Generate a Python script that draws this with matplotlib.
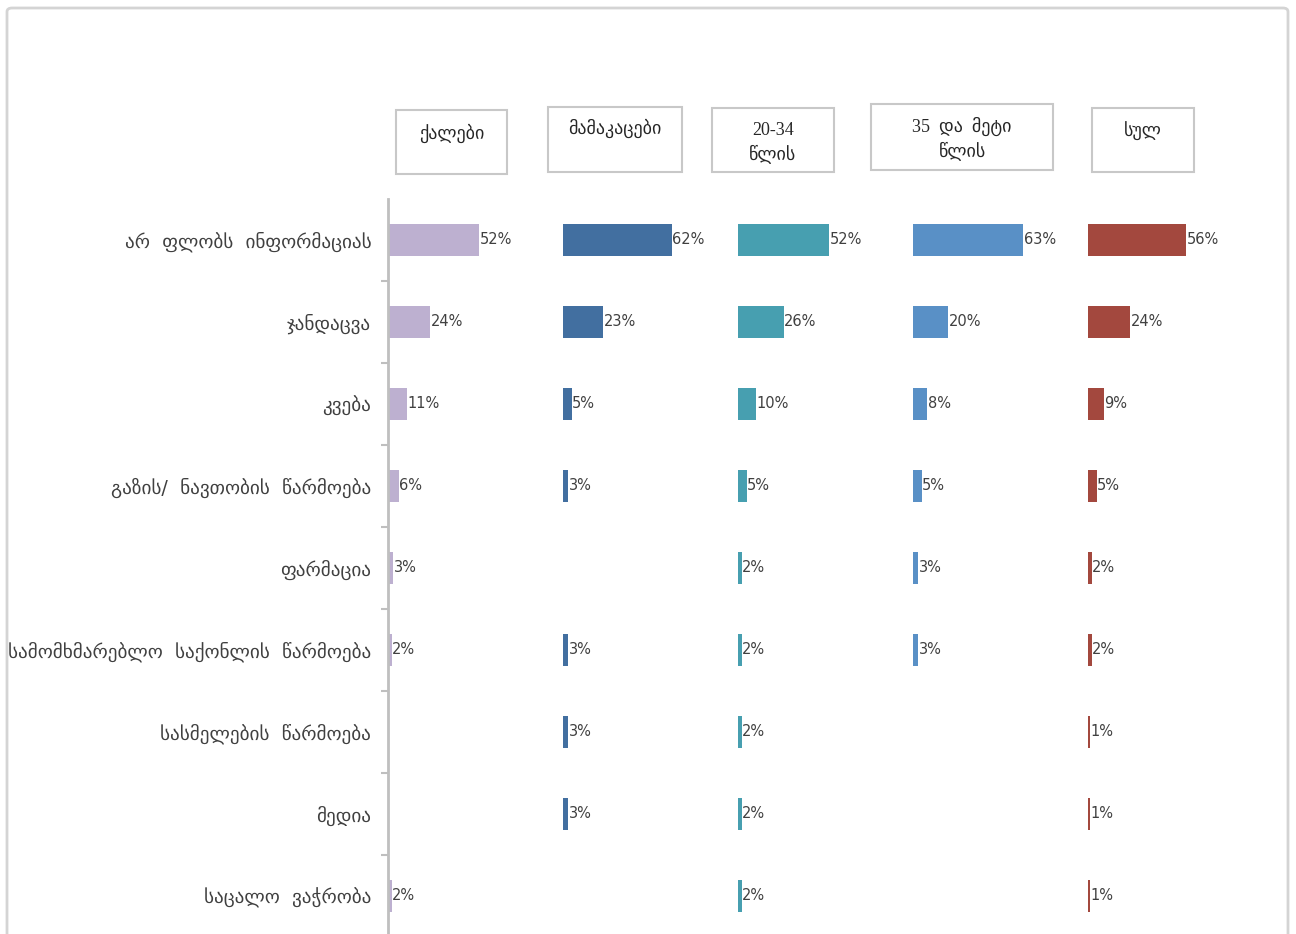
import matplotlib.pyplot as plt
import matplotlib.patches as patches
import numpy as np

# --- DATA ---
categories = [
    "არ  ფლობს  ინფორმაციას",
    "ჯანდაცვა",
    "კვება",
    "გაზის/  ნავთობის  წარმოება",
    "ფარმაცია",
    "სამომხმარებლო  საქონლის  წარმოება",
    "სასმელების  წარმოება",
    "მედია",
    "საცალო  ვაჭრობა",
]
groups = ["ქალები", "მამაკაცები", "20-34\nწლის", "35  და  მეტი\nწლის", "სულ"]

women = [52, 24, 11, 6, 3, 2, None, None, 2]
men = [62, 23, 5, 3, None, 3, 3, 3, None]
age_20_34 = [52, 26, 10, 5, 2, 2, 2, 2, 2]
age_35_plus = [63, 20, 8, 5, 3, 3, None, None, None]
total = [56, 24, 9, 5, 2, 2, 1, 1, 1]

series = [women, men, age_20_34, age_35_plus, total]
colors = ["#BDB0D0", "#426FA0", "#479FB0", "#5990C6", "#A3483E"]

# --- LAYOUT ---
W, H = 1296, 934
TEXT = "#404040"
fig = plt.figure(figsize=(W / 100, H / 100), dpi=100)

# outer frame
fig.patches.append(patches.FancyBboxPatch(
    (7 / W, 1 - 940 / H), (1288 - 7) / W, (940 - 8) / H,
    boxstyle="round,pad=0,rounding_size=0.004", transform=fig.transFigure,
    fill=False, edgecolor="#D4D4D4", linewidth=2, zorder=0))

panel_left, panel_w = 388, 175
top_px, bot_px = 199, 937
y = np.arange(len(categories))

axes = []
for i, (vals, col) in enumerate(zip(series, colors)):
    ax = fig.add_axes([(panel_left + i * panel_w) / W, 1 - bot_px / H,
                       panel_w / W, (bot_px - top_px) / H])
    ax.set_xlim(0, 100)
    ax.set_ylim(len(categories) - 0.5, -0.5)
    for j, v in enumerate(vals):
        if v is None:
            continue
        ax.barh(j, v, height=0.39, color=col, linewidth=0)
        ax.text(v + 0.3, j, f"{v}%", va="center", ha="left",
                fontsize=10.5, color=TEXT)
    for s in ax.spines.values():
        s.set_visible(False)
    ax.set_xticks([])
    ax.set_yticks([])
    ax.patch.set_alpha(0)
    axes.append(ax)

ax0 = axes[0]
ax0.spines["left"].set_visible(True)
ax0.spines["left"].set_color("#BFBFBF")
ax0.spines["left"].set_linewidth(2)
ax0.set_yticks(y)
ax0.set_yticklabels(categories, fontsize=13.8, color=TEXT)
ax0.tick_params(axis="y", which="major", length=0, pad=12)
ax0.set_yticks(y[:-1] + 0.5, minor=True)
ax0.tick_params(axis="y", which="minor", length=5, width=1.5, color="#BFBFBF")

# header boxes above each panel
boxes = [(396, 110, 507, 174, 133), (548, 107, 682, 172, 128),
         (712, 108, 834, 172, 143), (871, 104, 1053, 170, 139),
         (1092, 108, 1194, 172, 131)]
for label, (x0, y0, x1, y1, ty) in zip(groups, boxes):
    fig.patches.append(patches.Rectangle(
        (x0 / W, 1 - y1 / H), (x1 - x0) / W, (y1 - y0) / H,
        transform=fig.transFigure, fill=False, edgecolor="#C8C8C8",
        linewidth=1.5))
    fig.text((x0 + x1) / 2 / W, 1 - ty / H, label, ha="center", va="center",
             fontsize=13, color="#262626", linespacing=1.4,
             family=["Liberation Serif", "DejaVu Sans"])

fig.savefig("out.png", dpi=100, facecolor="white")
